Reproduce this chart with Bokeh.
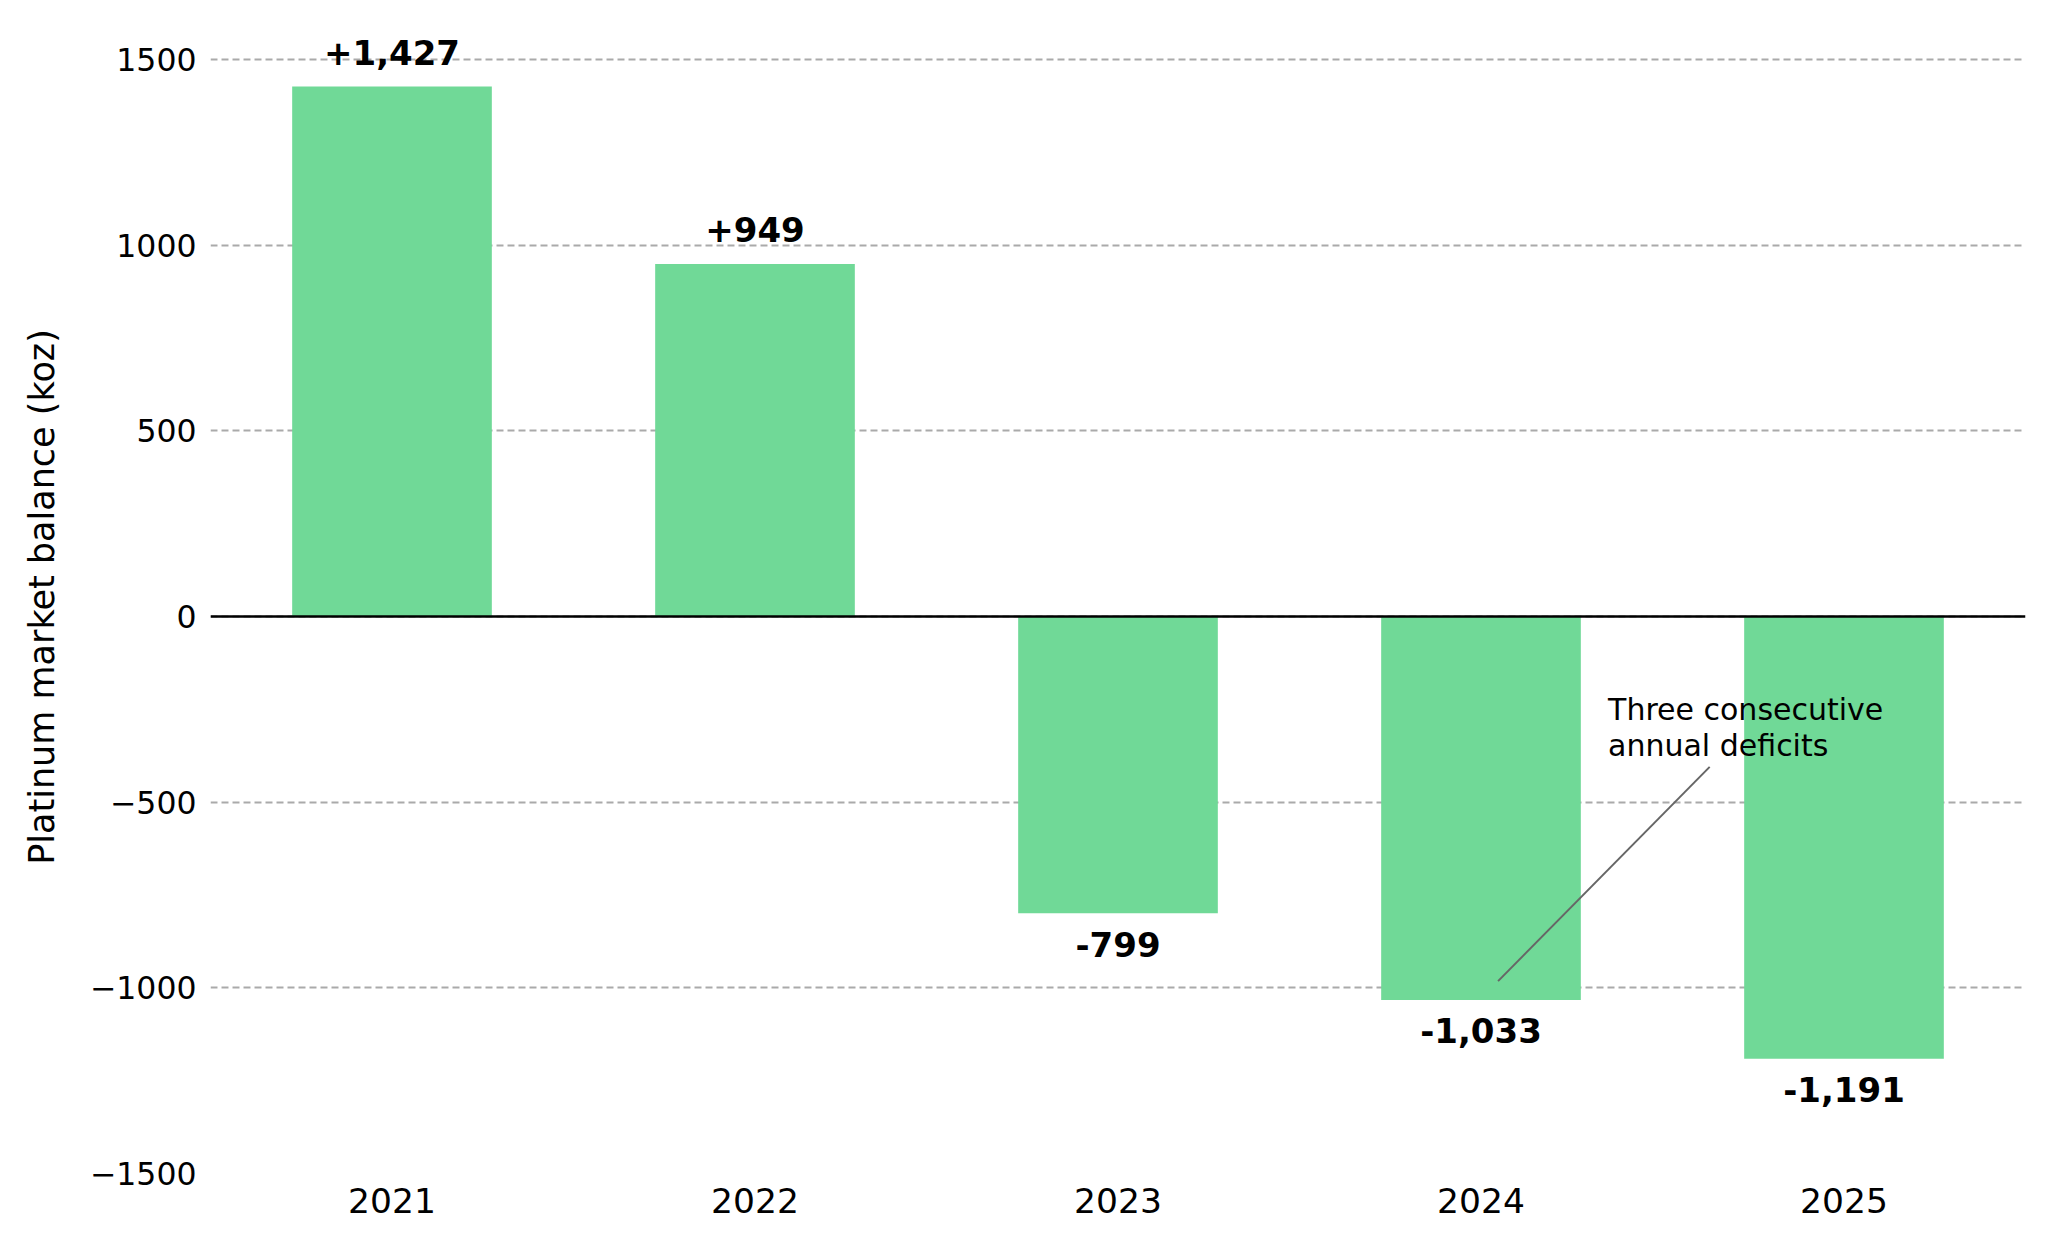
from bokeh.plotting import figure
from bokeh.models import Range1d, FixedTicker, Span
from bokeh.embed import file_html
from bokeh.resources import INLINE
from bokeh.core.properties import value

# ---- data ----
years = ["2021", "2022", "2023", "2024", "2025"]
balance = [1427, 949, -799, -1033, -1191]
bar_labels = ["+1,427", "+949", "-799", "-1,033", "-1,191"]
y_ticks = [-1500, -1000, -500, 0, 500, 1000, 1500]
y_tick_labels = ["\u22121500", "\u22121000", "\u2212500", "0", "500", "1000", "1500"]
note_text = "Three consecutive\nannual deficits"

FONT = "DejaVu Sans"
xs = list(range(len(years)))

p = figure(
    frame_width=1815, frame_height=1153,
    min_border_left=210, min_border_top=20, min_border_right=5, min_border_bottom=57,
    x_range=Range1d(-0.5, 4.5), y_range=Range1d(-1500, 1605),
    output_backend="svg", toolbar_location=None,
)
p.outline_line_color = None
p.background_fill_color = "white"
p.border_fill_color = "white"

# grid
p.xgrid.grid_line_color = None
p.ygrid.ticker = FixedTicker(ticks=y_ticks)
p.ygrid.grid_line_color = "#aaaaaa"
p.ygrid.grid_line_width = 2
p.ygrid.grid_line_dash = "7 4"

# bars
p.vbar(x=xs, top=balance, bottom=0, width=0.55, fill_color="#70d997", line_color=None)

# zero line
p.add_layout(Span(location=0, dimension="width", line_color="black", line_width=2.5))

# bar value labels
pos_x = [x for x, v in zip(xs, balance) if v >= 0]
pos_y = [v + 92 for v in balance if v >= 0]
pos_t = [t for t, v in zip(bar_labels, balance) if v >= 0]
neg_x = [x for x, v in zip(xs, balance) if v < 0]
neg_y = [v - 83 for v in balance if v < 0]
neg_t = [t for t, v in zip(bar_labels, balance) if v < 0]
p.text(x=pos_x, y=pos_y, text=pos_t, text_font=value(FONT), text_font_style="bold",
       text_font_size="34px", text_align="center", text_baseline="alphabetic", text_color="black")
p.text(x=neg_x, y=neg_y, text=neg_t, text_font=value(FONT), text_font_style="bold",
       text_font_size="34px", text_align="center", text_baseline="alphabetic", text_color="black")

# annotation
p.segment(x0=[3.63], y0=[-405], x1=[3.047], y1=[-982], line_color="#666666", line_width=2)
p.text(x=[3.35], y=[-203], text=[note_text], text_font=value(FONT), text_font_size="30px",
       text_align="left", text_baseline="top", text_line_height=1.02, text_color="black")

# axes
p.xaxis.ticker = FixedTicker(ticks=xs)
p.xaxis.major_label_overrides = {x: y for x, y in zip(xs, years)}
p.yaxis.ticker = FixedTicker(ticks=y_ticks)
p.yaxis.major_label_overrides = {t: l for t, l in zip(y_ticks, y_tick_labels)}
for ax in (p.xaxis, p.yaxis):
    ax.axis_line_color = None
    ax.major_tick_line_color = None
    ax.minor_tick_line_color = None
    ax.major_label_text_font = FONT
    ax.major_label_text_color = "black"
p.xaxis.major_label_text_font_size = "34.5px"
p.xaxis.major_label_standoff = 8
p.yaxis.major_label_text_font_size = "31.5px"
p.yaxis.major_label_standoff = 8
p.yaxis.axis_label = "Platinum market balance (koz)"
p.yaxis.axis_label_text_font = FONT
p.yaxis.axis_label_text_font_size = "35px"
p.yaxis.axis_label_text_font_style = "normal"
p.yaxis.axis_label_text_color = "black"
p.yaxis.axis_label_standoff = 25

open("out.html", "w").write(file_html(p, INLINE))
